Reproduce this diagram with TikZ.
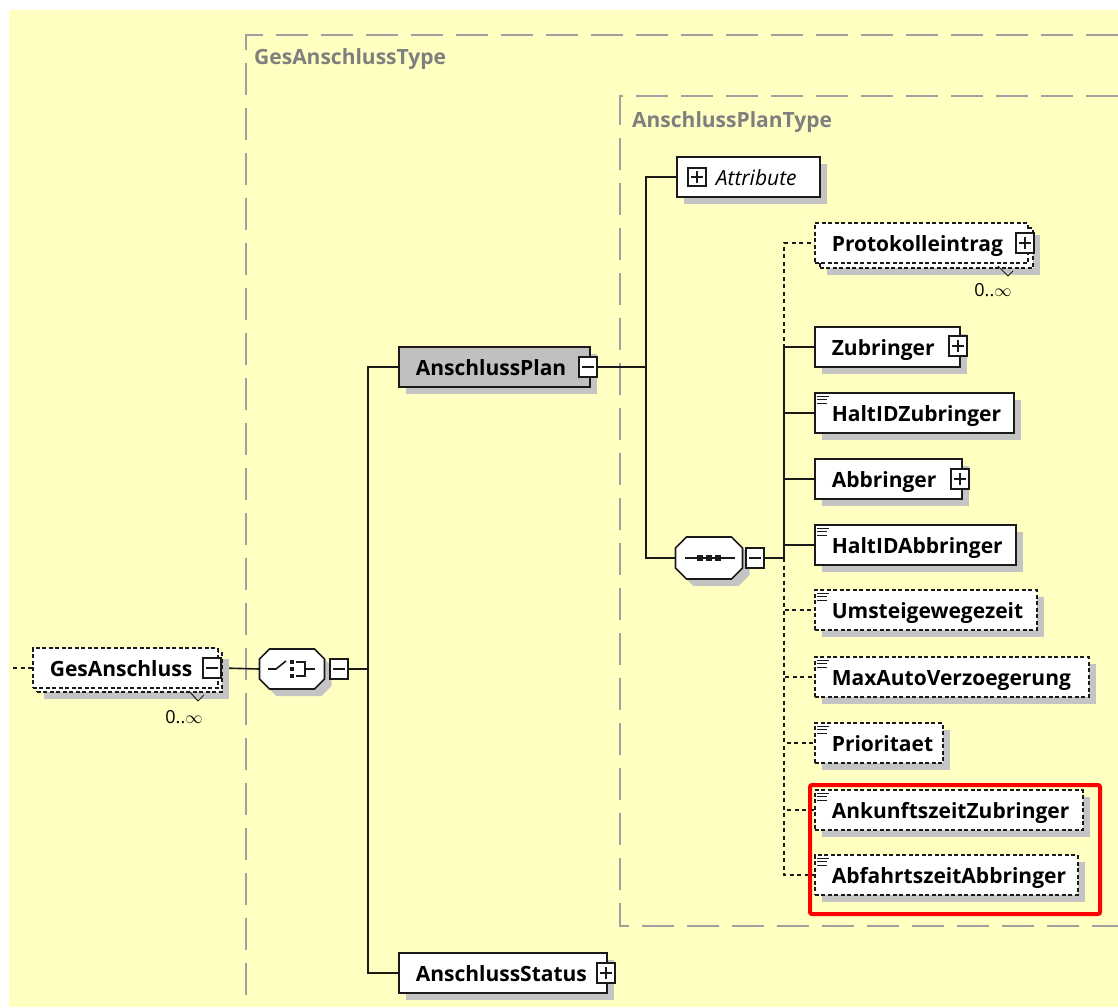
\documentclass[tikz,border=0pt]{standalone}
\usepackage{fontspec}
\setmainfont{Open Sans}
\usetikzlibrary{calc}
\definecolor{bgy}{HTML}{FFFFC2}
\definecolor{shgrey}{HTML}{C4C4C4}
\definecolor{plangrey}{HTML}{C0C0C0}
\definecolor{typeline}{HTML}{A0A0A0}
\definecolor{typetext}{HTML}{7F7F7F}
\definecolor{edge}{HTML}{1A1A1A}
\pgfdeclarelayer{bg}
\pgfdeclarelayer{conn}
\pgfsetlayers{bg,conn,main}
\newcommand\elfont{\fontsize{21pt}{24pt}\selectfont\bfseries}
\newcommand\drawOcta[2]{%
  \draw[comp] ($(#1.north west)+(#2,0)$) -- ($(#1.north east)+(-#2,0)$) -- ($(#1.north east)+(0,#2)$) -- ($(#1.south east)+(0,-#2)$) -- ($(#1.south east)+(-#2,0)$) -- ($(#1.south west)+(#2,0)$) -- ($(#1.south west)+(0,-#2)$) -- ($(#1.north west)+(0,#2)$) -- cycle;}
\newcommand\stIcon[1]{%
  \draw[edge, line width=1.4pt] ([xshift=3pt,yshift=-4pt]#1.north west) -- +(12,0)
    ([xshift=3pt,yshift=-7.5pt]#1.north west) -- +(10,0)
    ([xshift=3pt,yshift=-11pt]#1.north west) -- +(10,0);}
\begin{document}
\begin{tikzpicture}[x=1pt,y=-1pt,
  conn/.style={draw=edge, line width=1.6pt},
  optc/.style={draw=edge, line width=1.5pt, dash pattern=on 4pt off 3.5pt},
  shd/.style={preaction={draw=none, fill=shgrey, transform canvas={shift={(7pt,-7pt)}}}},
  elbase/.style={draw=edge, fill=white, line width=1.6pt, minimum height=40pt, inner xsep=17pt, inner ysep=0pt, text height=16pt, text depth=0pt, align=left, anchor=west, font=\elfont, text=black},
  el/.style={elbase, shd},
  optel/.style={elbase, shd, dash pattern=on 4pt off 2.5pt},
  optfront/.style={elbase, dash pattern=on 4pt off 2.5pt},
  optback/.style={draw=edge, fill=white, line width=1.6pt, dash pattern=on 4pt off 2.5pt, minimum height=40pt, minimum width=#1, inner sep=0pt, anchor=west, shd},
  tw/.style={text width=#1},
  hidden/.style={inner sep=0pt, outer sep=0pt},
  comp/.style={draw=edge, fill=white, line width=1.6pt, shd},
  pmbox/.style={draw=edge, fill=white, line width=1.3pt, minimum width=18pt, minimum height=20pt, inner sep=0pt},
  minusbox/.style={pmbox, path picture={\draw[edge, line width=1.3pt] ([xshift=-6pt]path picture bounding box.center) -- ([xshift=6pt]path picture bounding box.center);}},
  plusbox/.style={pmbox, path picture={\draw[edge, line width=1.3pt] ([xshift=-6pt]path picture bounding box.center) -- ([xshift=6pt]path picture bounding box.center) ([yshift=-6pt]path picture bounding box.center) -- ([yshift=6pt]path picture bounding box.center);}},
  typel/.style={draw=typeline, line width=2pt, dash pattern=on 32pt off 13pt},
  typelabel/.style={anchor=base west, text=typetext, font=\elfont, inner sep=0pt},
  occ/.style={font=\fontsize{18pt}{20pt}\selectfont, text=black, inner sep=0pt},
  sym/.style={draw=edge, line width=1.6pt},
  tick/.style={draw=edge, line width=1pt}
]
\useasboundingbox (0,0) rectangle (1118,1007);
\begin{pgfonlayer}{bg}
  \fill[white] (0,0) rectangle (1118,1007);
  \fill[bgy] (9,10) rectangle (1118,1007);
  \draw[typel] (1118,35) -- (246,35) -- (246,1007);
  \draw[typel] (1118,96) -- (620,96) -- (620,926) -- (1118,926);
  \node[typelabel] (gatl) at (254,64) {GesAnschlussType};
  \node[typelabel] (aptl) at (632,127) {AnschlussPlanType};
\end{pgfonlayer}

% GesAnschluss
\node[optback=185pt] (gesB) at (36,672) {};
\node[optfront, tw=151pt] (ges) at (32,668) {GesAnschluss};
\node[minusbox] (gespm) at (212,668) {};
\coordinate (lstart) at (13,668);
\node[occ] (gesocc) at (184,717) {0..$\infty$};
\draw[tick] (189,691) -- (198,701) -- (204,695);

% choice compositor
\node[hidden, minimum width=65pt, minimum height=40pt] (choice) at (292,669) {};
\drawOcta{choice}{10}
\draw[sym] ($(choice.center)+(-24,0)$) -- ++(8,0) -- ++(10,-8);
\fill[edge] ($(choice.center)+(-2,-9)$) rectangle ++(4,4);
\fill[edge] ($(choice.center)+(-2,-2)$) rectangle ++(4,4);
\fill[edge] ($(choice.center)+(-2,5)$) rectangle ++(4,4);
\draw[sym] ($(choice.center)+(4,-7)$) -- ++(9,0) -- ++(0,14) -- ++(-9,0);
\draw[sym] ($(choice.center)+(13,0)$) -- ++(10,0);
\node[minusbox] (choicepm) at (339,669) {};
\coordinate (bus1) at (368,669);

% AnschlussPlan / AnschlussStatus
\node[el, fill=plangrey, tw=157pt] (plan) at (398,367) {AnschlussPlan};
\node[minusbox] (planpm) at (588,367) {};
\node[el, tw=174pt] (status) at (398,973) {AnschlussStatus};
\node[plusbox] (statuspm) at (606,973) {};
\coordinate (bus2) at (646,367);

% Attribute
\node[el, tw=109pt] (attr) at (676,177) {\hspace*{22pt}{\mdseries\itshape Attribute}};
\node[plusbox, minimum height=18pt] (attrpm) at (697,177) {};

% sequence compositor
\node[hidden, minimum width=67pt, minimum height=42pt] (seq) at (709,558) {};
\drawOcta{seq}{11}
\draw[sym] ($(seq.center)+(-24,0)$) -- ($(seq.center)+(26,0)$);
\fill[edge] ($(seq.center)+(-12,-3)$) rectangle ++(6,6);
\fill[edge] ($(seq.center)+(-3,-3)$) rectangle ++(6,6);
\fill[edge] ($(seq.center)+(6,-3)$) rectangle ++(6,6);
\node[minusbox] (seqpm) at (755,558) {};
\coordinate (bus3) at (784,558);

% children of sequence
\node[optback=213pt] (protB) at (819,248) {};
\node[optfront, tw=179pt] (prot) at (814,243) {Protokolleintrag};
\node[plusbox] (protpm) at (1025,243) {};
\node[occ] (protocc) at (993,290) {0..$\infty$};
\draw[tick] (998,266) -- (1008,276) -- (1013,271);

\node[el, tw=111pt] (zub) at (814,347) {Zubringer};
\node[plusbox] (zubpm) at (958,346) {};
\node[el, tw=165pt] (hzub) at (814,413) {HaltIDZubringer};
\node[el, tw=113pt] (abb) at (814,479) {Abbringer};
\node[plusbox] (abbpm) at (960,479) {};
\node[el, tw=167pt] (habb) at (814,545) {HaltIDAbbringer};
\node[optel, tw=188pt] (umst) at (814,610) {Umsteigewegezeit};
\node[optel, tw=240pt] (maxa) at (814,677) {MaxAutoVerzoegerung};
\node[optel, tw=94pt] (prio) at (814,743) {Prioritaet};
\node[optel, tw=234pt] (ankz) at (814,810) {AnkunftszeitZubringer};
\node[optel, tw=229pt] (abfz) at (814,875) {AbfahrtszeitAbbringer};

\foreach \n in {hzub,habb,umst,maxa,prio,ankz,abfz} {\stIcon{\n}}

\draw[red, line width=4pt, rounded corners=2pt] (810,785) rectangle (1100,914);

\begin{pgfonlayer}{conn}
  \draw[optc] (lstart) -- (ges.west);
  \draw[conn] (gespm.east) -- (choice.west);
  \draw[conn] (choice.east) -- (choicepm.west);
  \draw[conn] (choicepm.east) -- (bus1);
  \draw[conn] (bus1) |- (plan.west);
  \draw[conn] (bus1) |- (status.west);
  \draw[conn] (planpm.east) -- (bus2);
  \draw[conn] (bus2) |- (attr.west);
  \draw[conn] (bus2) |- (seq.west);
  \draw[conn] (seq.east) -- (seqpm.west);
  \draw[conn] (seqpm.east) -- (bus3);
  \foreach \n in {prot,umst,maxa,prio,ankz,abfz} {\draw[optc] (bus3) |- (\n.west);}
  \foreach \n in {zub,hzub,abb,habb} {\draw[conn] (bus3) |- (\n.west);}
\end{pgfonlayer}
\end{tikzpicture}
\end{document}
